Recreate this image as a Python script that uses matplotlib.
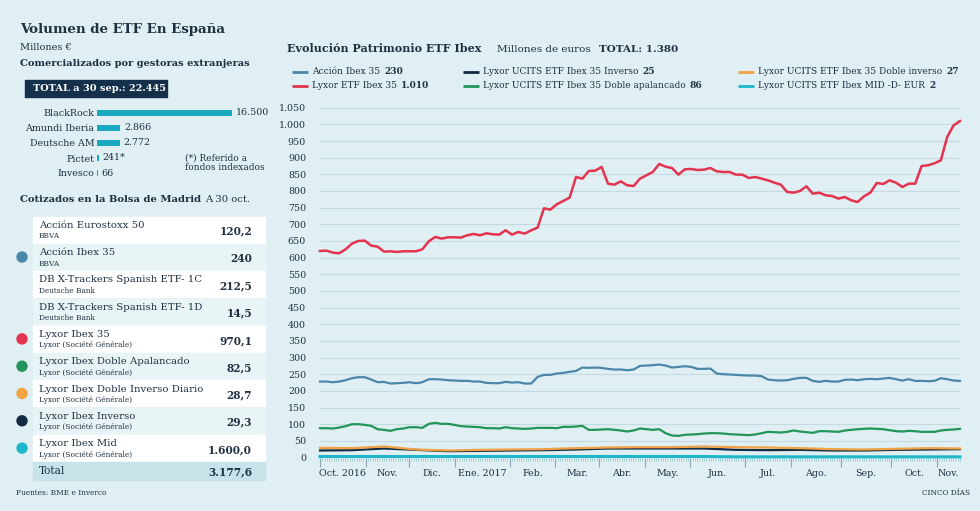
import numpy as np
import matplotlib.pyplot as plt
from matplotlib.patches import Rectangle, Circle
from matplotlib.ticker import MultipleLocator, FuncFormatter, FixedLocator

plt.rcParams['font.family'] = ['DejaVu Serif']

BG = '#dfeff3'
INK = '#1f3142'

# ---- datos: gestoras extranjeras (millones de euros)
gestoras = ["BlackRock", "Amundi Iberia", "Deutsche AM", "Pictet", "Invesco"]
volumen = [16500, 2866, 2772, 241, 66]
notas = ["", "", "", "*", ""]

# ---- datos: cotizados en la Bolsa de Madrid
etf_nombres = ["Acción Eurostoxx 50", "Acción Ibex 35", "DB X-Trackers Spanish ETF- 1C",
               "DB X-Trackers Spanish ETF- 1D", "Lyxor Ibex 35", "Lyxor Ibex Doble Apalancado",
               "Lyxor Ibex Doble Inverso Diario", "Lyxor Ibex Inverso", "Lyxor Ibex Mid"]
etf_gestor = ["BBVA", "BBVA", "Deutsche Bank", "Deutsche Bank", "Lyxor (Société Générale)",
              "Lyxor (Société Générale)", "Lyxor (Société Générale)", "Lyxor (Société Générale)",
              "Lyxor (Société Générale)"]
etf_valor = ["120,2", "240", "212,5", "14,5", "970,1", "82,5", "28,7", "29,3", "1.600,0"]
etf_serie = [None, "accion", None, None, "lyxor35", "apalancado", "doble_inv", "inverso", "mid"]
total_bolsa = "3.177,6"

# ---- datos: evolucion patrimonio (sesiones desde oct. 2016)
meses = ["Oct. 2016", "Nov.", "Dic.", "Ene. 2017", "Feb.", "Mar.", "Abr.", "May.",
         "Jun.", "Jul.", "Ago.", "Sep.", "Oct.", "Nov."]
limites_mes = [0, 20, 39, 59, 83, 103, 122, 142, 162, 186, 206, 228, 250, 270, 280]

lyxor35 = [620, 621, 615, 613, 625, 642, 650, 651, 636, 633,
           618, 619, 617, 619, 619, 619, 625, 649, 662, 657,
           661, 661, 660, 667, 671, 667, 673, 670, 669, 682,
           669, 677, 672, 682, 690, 748, 744, 760, 770, 780,
           842, 837, 860, 861, 872, 822, 819, 829, 817, 815,
           837, 847, 857, 881, 873, 869, 849, 865, 866, 863,
           864, 869, 859, 857, 857, 849, 849, 839, 842, 837,
           832, 825, 819, 797, 795, 800, 814, 792, 795, 787,
           785, 777, 782, 772, 767, 784, 795, 824, 821, 832,
           825, 812, 822, 822, 875, 877, 883, 892, 962, 997, 1010]
accion = [228, 228, 226, 228, 232, 238, 241, 241, 234, 226,
          227, 222, 223, 224, 226, 223, 226, 235, 235, 234,
          232, 231, 230, 230, 228, 228, 224, 223, 223, 227,
          225, 226, 222, 222, 242, 248, 248, 252, 254, 257,
          260, 270, 269, 270, 269, 266, 264, 264, 262, 264,
          275, 276, 277, 279, 276, 270, 272, 274, 272, 266,
          266, 267, 252, 250, 249, 248, 247, 246, 246, 244,
          234, 232, 231, 232, 236, 239, 239, 230, 227, 230,
          228, 228, 233, 234, 232, 235, 236, 235, 237, 239,
          235, 231, 235, 230, 230, 229, 230, 238, 235, 231, 230]
apalancado = [88, 88, 87, 90, 94, 100, 100, 98, 95, 85,
              83, 80, 85, 87, 91, 91, 89, 101, 104, 101,
              101, 98, 94, 93, 92, 91, 88, 88, 87, 91,
              88, 87, 86, 87, 89, 89, 89, 88, 92, 92,
              93, 95, 83, 83, 84, 85, 83, 81, 78, 81,
              87, 85, 83, 85, 73, 66, 65, 68, 69, 70,
              72, 73, 73, 72, 70, 69, 68, 67, 69, 73,
              77, 76, 75, 77, 81, 78, 76, 74, 79, 79,
              78, 77, 81, 83, 85, 86, 87, 86, 85, 82,
              79, 78, 80, 79, 77, 77, 77, 81, 83, 84, 86]
doble_inv = [29, 28, 33, 24, 21, 23, 24, 25, 28, 30, 31,
             31, 33, 31, 30, 28, 25, 24, 26, 28, 27]
inverso = [21, 22, 27, 23, 19, 20, 21, 22, 24, 27, 27,
           27, 27, 23, 22, 23, 21, 21, 23, 24, 25]
mid = [3, 3, 3, 3, 3, 3, 3, 3, 3, 3, 3,
       3, 3, 2, 2, 2, 2, 2, 2, 2, 2]

series = {
    "accion": ("Acción Ibex 35", "230", accion, '#4b87a9'),
    "lyxor35": ("Lyxor ETF Ibex 35", "1.010", lyxor35, '#e3334f'),
    "inverso": ("Lyxor UCITS ETF Ibex 35 Inverso", "25", inverso, '#132c44'),
    "apalancado": ("Lyxor UCITS ETF Ibex 35 Doble apalancado", "86", apalancado, '#23955a'),
    "doble_inv": ("Lyxor UCITS ETF Ibex 35 Doble inverso", "27", doble_inv, '#f0a245'),
    "mid": ("Lyxor UCITS ETF Ibex MID -D- EUR", "2", mid, '#1fb6cb'),
}


def miles(v):
    return f"{int(v):,}".replace(",", ".")


W, H = 980, 511
fig = plt.figure(figsize=(W / 100, H / 100), dpi=100, facecolor=BG)


def px_axes(x0, y0, x1, y1):
    return fig.add_axes([x0 / W, 1 - y1 / H, (x1 - x0) / W, (y1 - y0) / H])


# overlay in pixel coords
ov = fig.add_axes([0, 0, 1, 1])
ov.set_xlim(0, W)
ov.set_ylim(H, 0)
ov.axis('off')

# ---------------- left panel
ov.text(20, 29, "Volumen de ETF En España", fontsize=9.6, fontweight='bold', color=INK, va='center')
ov.text(20, 47, "Millones €", fontsize=7, color=INK, va='center')
ov.text(20, 64, "Comercializados por gestoras extranjeras", fontsize=7.1, fontweight='bold',
        color=INK, va='center')
ov.add_patch(Rectangle((25, 80), 142, 17, color='#15304a'))
ov.text(33, 88.5, "TOTAL a 30 sep.: 22.445", fontsize=7, fontweight='bold', color='white', va='center')

bx = px_axes(97, 105.5, 232, 180.5)
bx.barh(range(len(gestoras)), volumen, height=0.45, color='#19aac1')
bx.set_xlim(0, 16500)
bx.set_ylim(len(gestoras) - 0.5, -0.5)
bx.set_yticks(range(len(gestoras)), gestoras)
bx.tick_params(axis='y', length=0, pad=2, labelsize=6.8, labelcolor=INK)
bx.set_xticks([])
bx.patch.set_visible(False)
for s in bx.spines.values():
    s.set_visible(False)
for i, (v, n) in enumerate(zip(volumen, notas)):
    bx.annotate(miles(v) + n, (v, i), xytext=(2.5, 0), textcoords='offset points',
                va='center', fontsize=6.8, color=INK, annotation_clip=False)

ov.text(185, 163, "(*) Referido a\nfondos indexados", fontsize=6.5, color=INK, va='center',
        linespacing=1.0)

t = ov.text(20, 200, "Cotizados en la Bolsa de Madrid", fontsize=7.2, fontweight='bold',
            color=INK, va='center')
ov.annotate("A 30 oct.", xy=(1, 0), xycoords=t, xytext=(3, 0), textcoords='offset points',
            va='bottom', fontsize=7.2, color=INK)

row_top, row_step, row_h = 216.7, 27.3, 26
for i, (nom, ges, val, key) in enumerate(zip(etf_nombres, etf_gestor, etf_valor, etf_serie)):
    top = row_top + i * row_step
    ov.add_patch(Rectangle((33, top), 232, row_h, color='white' if i % 2 == 0 else '#e9f4f7'))
    ov.text(39, top + 8.5, nom, fontsize=7.3, color=INK, va='center')
    ov.text(39, top + 19.5, ges, fontsize=5.3, color=INK, va='center')
    ov.text(252, top + 14.5, val, fontsize=7.6, fontweight='bold', color=INK, va='center', ha='right')
    if key:
        ov.add_patch(Circle((22, top + 13), 5, color=series[key][3]))
top = row_top + len(etf_nombres) * row_step
ov.add_patch(Rectangle((33, top), 232, 17.5, color='#c7e3ea'))
ov.text(39, top + 9, "Total", fontsize=7.6, color=INK, va='center')
ov.text(252, top + 9, total_bolsa, fontsize=7.6, fontweight='bold', color=INK, va='center', ha='right')

ov.text(16, 493, "Fuentes: BME e Inverco", fontsize=5.3, color=INK, va='center')
ov.text(970, 493, "CINCO DÍAS", fontsize=5.3, color=INK, va='center', ha='right')

# ---------------- right panel header
t = ov.text(287, 48, "Evolución Patrimonio ETF Ibex", fontsize=8, fontweight='bold', color=INK,
            va='center')
t2 = ov.annotate("Millones de euros", xy=(1, 0), xycoords=t, xytext=(11, 0),
                 textcoords='offset points', va='bottom', fontsize=7.5, color=INK)
ov.annotate("TOTAL: 1.380", xy=(1, 0), xycoords=t2, xytext=(6, 0),
            textcoords='offset points', va='bottom', fontsize=7.5, fontweight='bold', color=INK)

cols = [292, 463, 738]
rows = [72, 86]
orden = [["accion", "lyxor35"], ["inverso", "apalancado"], ["doble_inv", "mid"]]
for cx, keys in zip(cols, orden):
    for cy, key in zip(rows, keys):
        nom, tot, _, col = series[key]
        ov.plot([cx, cx + 16], [cy, cy], color=col, lw=2, solid_capstyle='butt')
        tt = ov.text(cx + 20, cy, nom, fontsize=6.5, color=INK, va='center')
        ov.annotate(tot, xy=(1, 0), xycoords=tt, xytext=(3, 0), textcoords='offset points',
                    va='bottom', fontsize=6.5, fontweight='bold', color=INK)

# ---------------- line chart
ax = px_axes(320, 107.7, 960, 457.5)
ax.patch.set_visible(False)
for s in ax.spines.values():
    s.set_visible(False)
n_sesiones = limites_mes[-1]
for key in ["accion", "apalancado", "inverso", "doble_inv", "mid", "lyxor35"]:
    nom, tot, vals, col = series[key]
    x = np.linspace(0, n_sesiones, len(vals))
    lw = 1.8 if key == "lyxor35" else (2.2 if key == "mid" else 1.6)
    ax.plot(x, vals, color=col, lw=lw, clip_on=False, solid_joinstyle='round')

ax.set_xlim(0, n_sesiones)
ax.set_ylim(0, 1050)
ax.yaxis.set_major_locator(MultipleLocator(50))
ax.yaxis.set_major_formatter(FuncFormatter(lambda v, p: miles(v)))
ax.tick_params(axis='y', length=0, pad=10, labelsize=6.8, labelcolor=INK)
ax.grid(axis='y', color='#c4d9e0', lw=0.8)
ax.set_axisbelow(True)

ax.xaxis.set_major_locator(FixedLocator(limites_mes[:-1]))
ax.xaxis.set_minor_locator(MultipleLocator(1))
ax.tick_params(axis='x', which='major', length=6.5, width=0.8, color='#8ea7b6', labelbottom=False)
ax.tick_params(axis='x', which='minor', length=2.5, width=0.5, color='#84c3d2')
for i, m in enumerate(meses):
    mid_x = (limites_mes[i] + limites_mes[i + 1]) / 2
    ax.text(mid_x, -0.047, m, transform=ax.get_xaxis_transform(), ha='center', va='center',
            fontsize=6.8, color=INK)

fig.savefig("out.png", dpi=100, facecolor=BG)
